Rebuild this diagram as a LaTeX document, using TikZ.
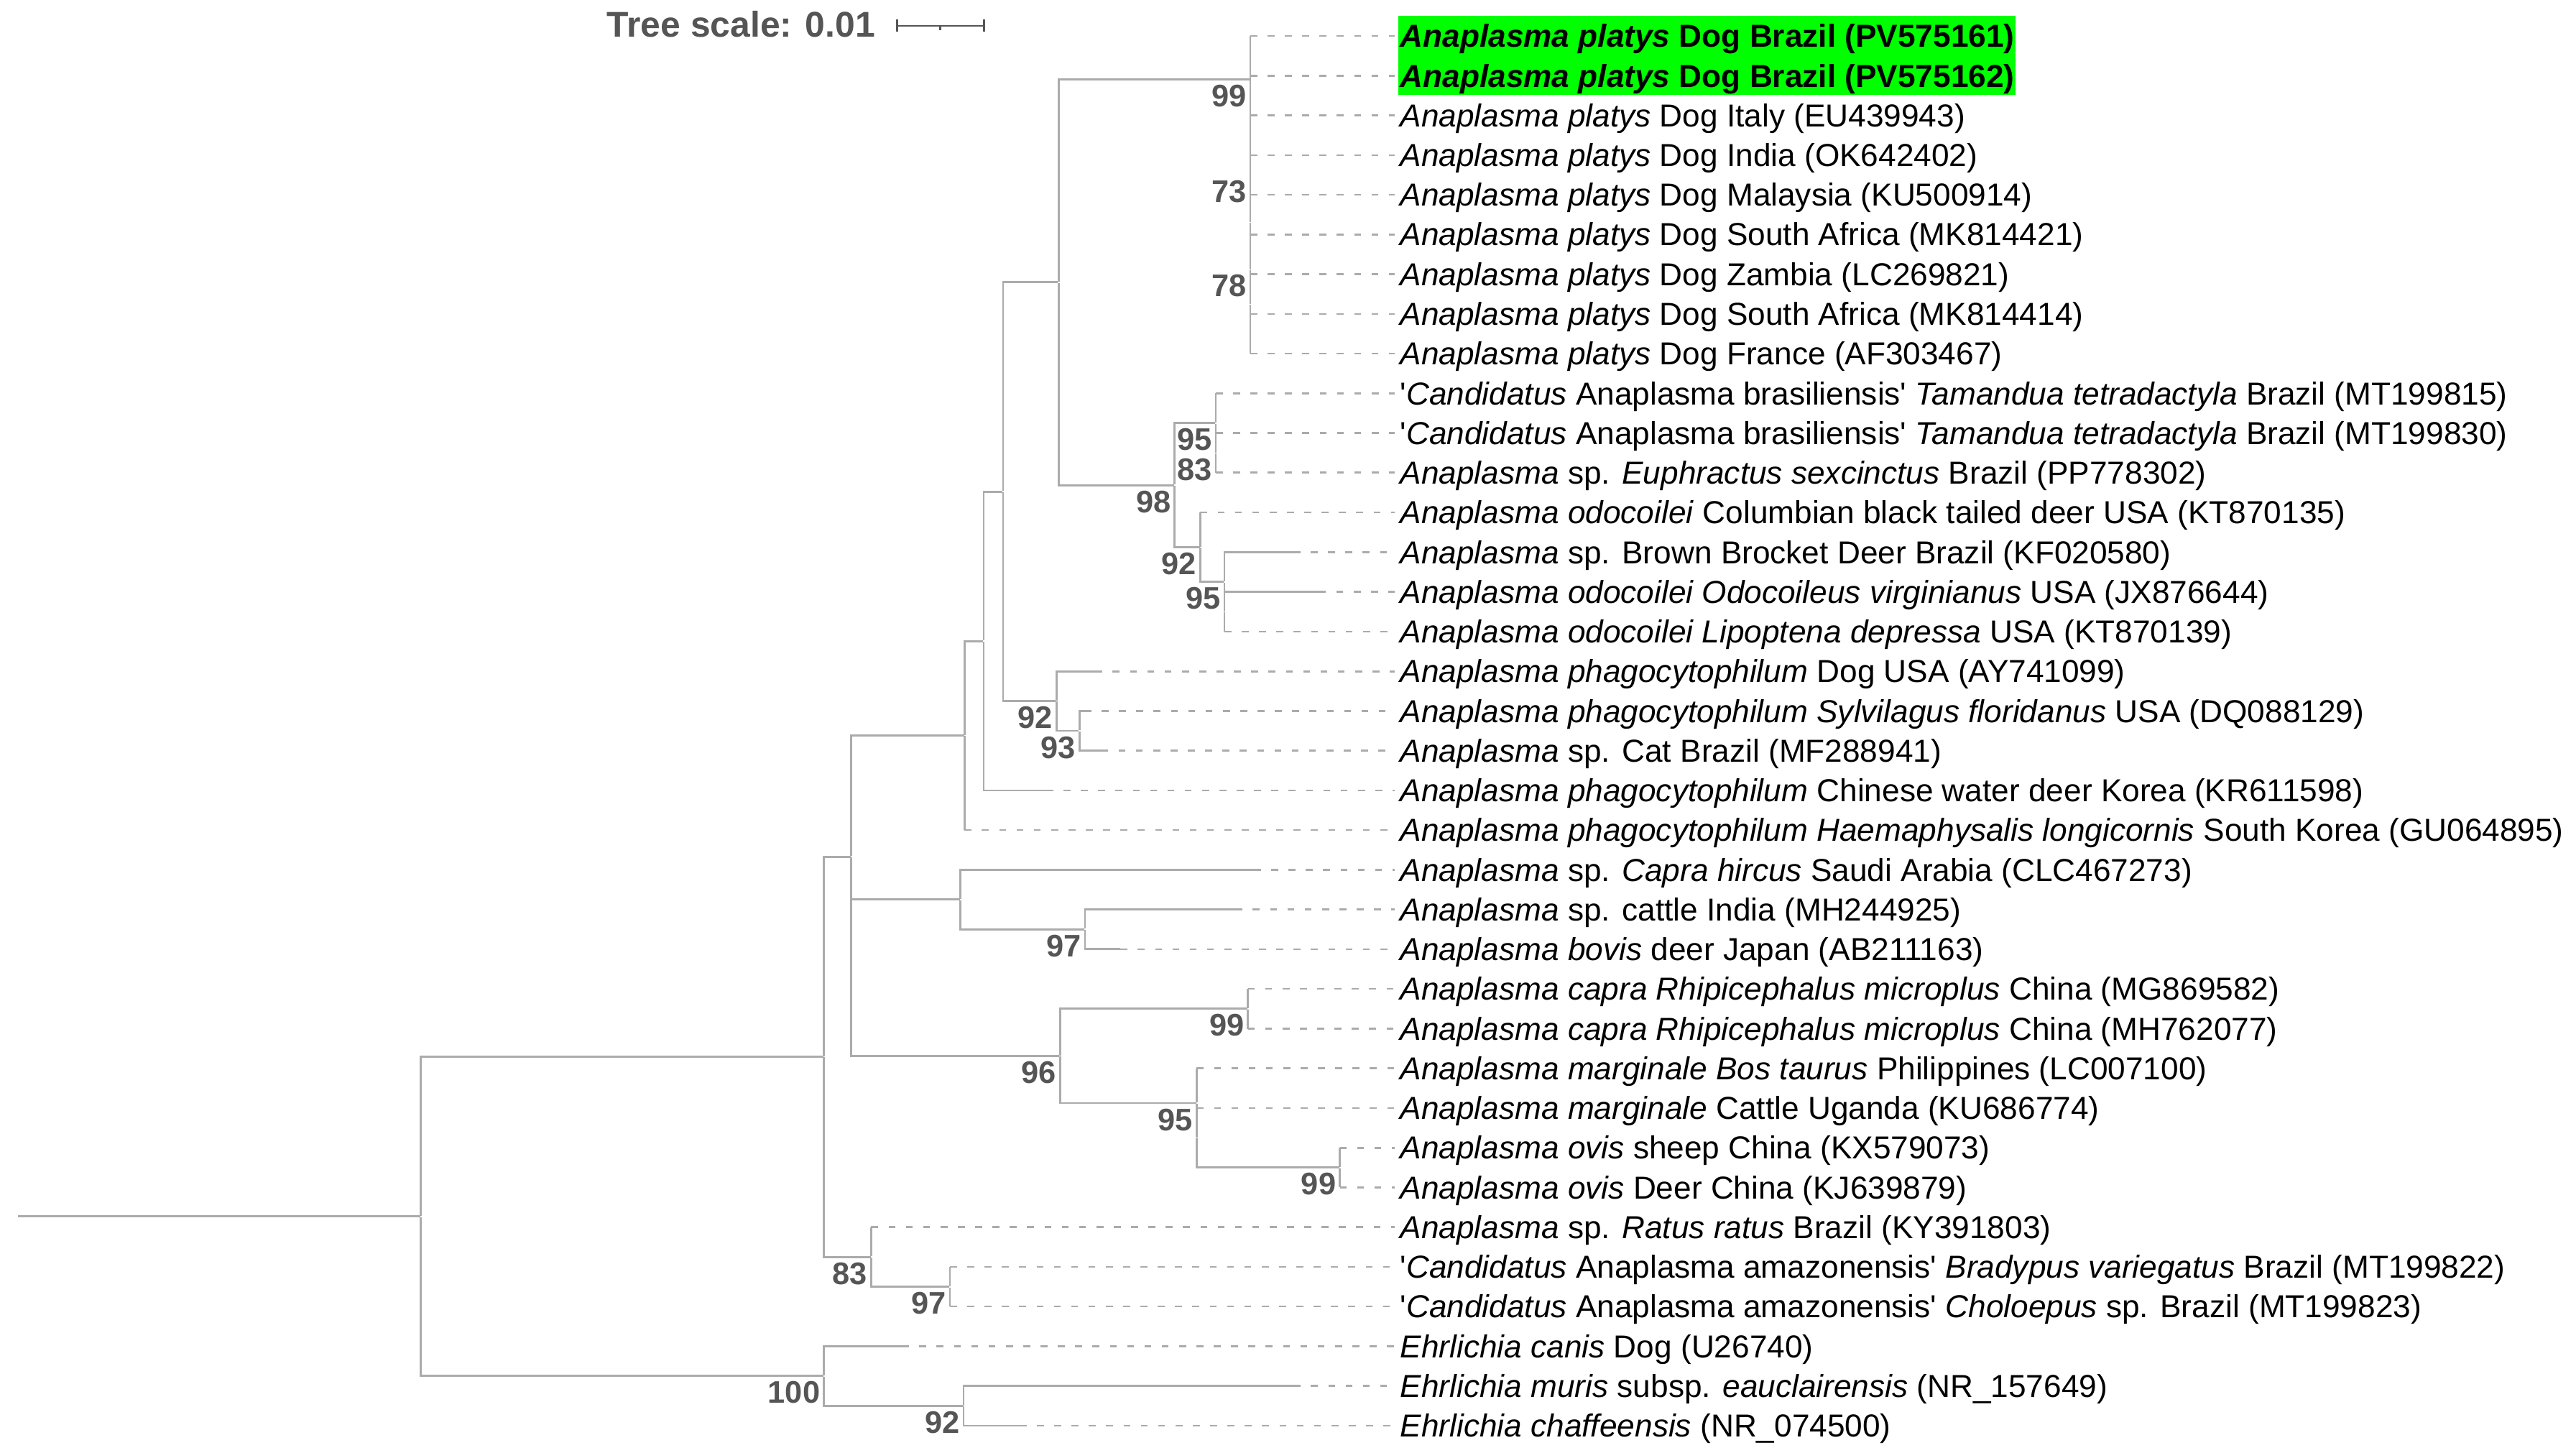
\documentclass[tikz,border=0pt]{standalone}
\usepackage{fontspec}
\setmainfont{Liberation Sans}
\definecolor{treegray}{HTML}{ABABAB}
\definecolor{bootgray}{HTML}{555555}
\definecolor{hlgreen}{HTML}{00FF00}

\begin{document}
\begin{tikzpicture}[x=0.2mm, y=-0.2mm]
	\tikzstyle{junction} = [circle, inner sep=0pt, minimum size=0pt];
	\tikzstyle{branch} = [treegray, line width=0.7pt];
	\tikzstyle{guide} = [treegray, line width=0.65pt, dash pattern=on 2.4pt off 3.6pt];
	\tikzstyle{leaf} = [anchor=west, inner xsep=1.7pt, inner ysep=0pt, text height=7.8pt, text depth=0pt, font=\fontsize{11}{13}\selectfont];
	\tikzstyle{boot} = [text=bootgray, inner xsep=1pt, inner ysep=1.6pt, font=\fontsize{10.8}{12}\selectfont\bfseries];
	\tikzstyle{scalebar} = [bootgray, line width=0.6pt];

	\useasboundingbox (0,0) rectangle (1568,884);

	\node[anchor=base east, inner sep=0pt, text=bootgray, font=\fontsize{12.4}{14}\selectfont\bfseries] at (533,22.6) (scalelab) {Tree scale: 0.01};
	\coordinate (sbl) at (546,15.7);
	\coordinate (sbr) at (599,15.7);
	\draw[scalebar] (sbl) -- (sbr);
	\draw[scalebar] (546,12) -- (546,19.2);
	\draw[scalebar] (599,12) -- (599,19.2);
	\draw[scalebar] (572.3,15.7) -- (572.3,18.2);

	\fill[hlgreen] (851,9.5) rectangle (1227,57.8);

	% internal nodes
	\node[junction] at (10.6,740.4) (stem) {};
	\node[junction] at (256,740.4) (nroot) {};
	\node[junction] at (501.5,643.2) (nA) {};
	\node[junction, label={[boot]below left:100}] at (501.5,837.5) (nEhr) {};
		\node[junction, label={[boot]below left:92}] at (586.5,855.7) (nEhr92) {};
	\node[junction] at (518,521.4) (nB) {};
	\node[junction] at (518,595.1) (nC) {};
	\node[junction] at (587.1,447.7) (n587) {};
	\node[junction] at (598.8,390.2) (n599) {};
	\node[junction] at (610.6,299.2) (n610) {};
	\node[junction] at (644.3,171.75) (n644) {};

	\node[junction, label={[boot]below left:99}] at (761,48.2) (nP99) {};
		\node[junction] at (761,74.4) (nPa) {};
		\node[junction] at (761,102.7) (nPb) {};
		\node[junction] at (761,135.2) (nPc) {};
		\node[junction, label={[boot]below left:73}] at (761,106.5) (nP73) {};
		\node[junction, label={[boot]below left:78}] at (761,163.9) (nP78) {};
		\node[junction] at (761,185.0) (nPd) {};
		\node[junction] at (761,203.2) (nPe) {};

	\node[junction, label={[boot]below left:98}] at (715,295.3) (n98) {};
		\node[junction, label={[boot]below left:95}] at (740,257.5) (nBr95) {};
		\node[junction, label={[boot]below left:83}] at (740,275.6) (nBr83) {};
		\node[junction, label={[boot]below left:92}] at (730.6,333.0) (nOd92) {};
		\node[junction, label={[boot]below left:95}] at (745.3,354.2) (nOd95) {};
		\node[junction] at (745.3,372.3) (nOdi) {};

	\node[junction, label={[boot]below left:92}] at (643,426.7) (nPh92) {};
		\node[junction, label={[boot]below left:93}] at (657,444.8) (nPh93) {};

	\node[junction] at (584.6,547.5) (n585) {};
		\node[junction, label={[boot]below left:97}] at (660.4,565.6) (nBov97) {};

	\node[junction, label={[boot]below left:96}] at (645.2,642.7) (n96) {};
		\node[junction, label={[boot]below left:99}] at (759.6,614.0) (nCap99) {};
		\node[junction, label={[boot]below left:95}] at (728.4,671.4) (nMa95) {};
		\node[junction] at (728.4,692.5) (nMai) {};
		\node[junction, label={[boot]below left:99}] at (815.5,710.6) (nOv99) {};

	\node[junction, label={[boot]below left:83}] at (530.3,765.0) (nAm83) {};
		\node[junction, label={[boot]below left:97}] at (578.2,783.2) (nAm97) {};

	% branch tips
	\coordinate (t1) at (761,21.9);
	\coordinate (t2) at (761,46.1);
	\coordinate (t3) at (761,70.2);
	\coordinate (t4) at (761,94.4);
	\coordinate (t5) at (761,118.6);
	\coordinate (t6) at (761,142.7);
	\coordinate (t7) at (761,166.9);
	\coordinate (t8) at (761,191.1);
	\coordinate (t9) at (761,215.2);
	\coordinate (t10) at (740,239.4);
	\coordinate (t11) at (740,263.6);
	\coordinate (t12) at (740,287.7);
	\coordinate (t13) at (730.6,311.9);
	\coordinate (t14) at (787.3,336.1);
	\coordinate (t15) at (802.9,360.2);
	\coordinate (t16) at (745.3,384.4);
	\coordinate (t17) at (666.7,408.6);
	\coordinate (t18) at (660,432.7);
	\coordinate (t19) at (670.3,456.9);
	\coordinate (t20) at (636.8,481.1);
	\coordinate (t21) at (587.1,505.2);
	\coordinate (t22) at (763.2,529.4);
	\coordinate (t23) at (752,553.6);
	\coordinate (t24) at (682,577.7);
	\coordinate (t25) at (759.6,601.9);
	\coordinate (t26) at (759.6,626.1);
	\coordinate (t27) at (728.4,650.2);
	\coordinate (t28) at (728.4,674.4);
	\coordinate (t29) at (815.5,698.6);
	\coordinate (t30) at (815.5,722.7);
	\coordinate (t31) at (530.3,746.9);
	\coordinate (t32) at (578.2,771.1);
	\coordinate (t33) at (578.2,795.2);
	\coordinate (t34) at (549,819.4);
	\coordinate (t35) at (787.4,843.6);
	\coordinate (t36) at (620.6,867.7);

	% leaves
	\node[leaf] at (849,21.9) (l1) {\textbf{\textit{Anaplasma platys} Dog Brazil (PV575161)}};
	\node[leaf] at (849,46.1) (l2) {\textbf{\textit{Anaplasma platys} Dog Brazil (PV575162)}};
	\node[leaf] at (849,70.2) (l3) {\textit{Anaplasma platys} Dog Italy (EU439943)};
	\node[leaf] at (849,94.4) (l4) {\textit{Anaplasma platys} Dog India (OK642402)};
	\node[leaf] at (849,118.6) (l5) {\textit{Anaplasma platys} Dog Malaysia (KU500914)};
	\node[leaf] at (849,142.7) (l6) {\textit{Anaplasma platys} Dog South Africa (MK814421)};
	\node[leaf] at (849,166.9) (l7) {\textit{Anaplasma platys} Dog Zambia (LC269821)};
	\node[leaf] at (849,191.1) (l8) {\textit{Anaplasma platys} Dog South Africa (MK814414)};
	\node[leaf] at (849,215.2) (l9) {\textit{Anaplasma platys} Dog France (AF303467)};
	\node[leaf] at (849,239.4) (l10) {\textquotesingle\textit{Candidatus} Anaplasma brasiliensis\textquotesingle{} \textit{Tamandua tetradactyla} Brazil (MT199815)};
	\node[leaf] at (849,263.6) (l11) {\textquotesingle\textit{Candidatus} Anaplasma brasiliensis\textquotesingle{} \textit{Tamandua tetradactyla} Brazil (MT199830)};
	\node[leaf] at (849,287.7) (l12) {\textit{Anaplasma} sp. \textit{Euphractus sexcinctus} Brazil (PP778302)};
	\node[leaf] at (849,311.9) (l13) {\textit{Anaplasma odocoilei} Columbian black tailed deer USA (KT870135)};
	\node[leaf] at (849,336.1) (l14) {\textit{Anaplasma} sp. Brown Brocket Deer Brazil (KF020580)};
	\node[leaf] at (849,360.2) (l15) {\textit{Anaplasma odocoilei Odocoileus virginianus} USA (JX876644)};
	\node[leaf] at (849,384.4) (l16) {\textit{Anaplasma odocoilei Lipoptena depressa} USA (KT870139)};
	\node[leaf] at (849,408.6) (l17) {\textit{Anaplasma phagocytophilum} Dog USA (AY741099)};
	\node[leaf] at (849,432.7) (l18) {\textit{Anaplasma phagocytophilum Sylvilagus floridanus} USA (DQ088129)};
	\node[leaf] at (849,456.9) (l19) {\textit{Anaplasma} sp. Cat Brazil (MF288941)};
	\node[leaf] at (849,481.1) (l20) {\textit{Anaplasma phagocytophilum} Chinese water deer Korea (KR611598)};
	\node[leaf] at (849,505.2) (l21) {\textit{Anaplasma phagocytophilum Haemaphysalis longicornis} South Korea (GU064895)};
	\node[leaf] at (849,529.4) (l22) {\textit{Anaplasma} sp. \textit{Capra hircus} Saudi Arabia (CLC467273)};
	\node[leaf] at (849,553.6) (l23) {\textit{Anaplasma} sp. cattle India (MH244925)};
	\node[leaf] at (849,577.7) (l24) {\textit{Anaplasma bovis} deer Japan (AB211163)};
	\node[leaf] at (849,601.9) (l25) {\textit{Anaplasma capra Rhipicephalus microplus} China (MG869582)};
	\node[leaf] at (849,626.1) (l26) {\textit{Anaplasma capra Rhipicephalus microplus} China (MH762077)};
	\node[leaf] at (849,650.2) (l27) {\textit{Anaplasma marginale Bos taurus} Philippines (LC007100)};
	\node[leaf] at (849,674.4) (l28) {\textit{Anaplasma marginale} Cattle Uganda (KU686774)};
	\node[leaf] at (849,698.6) (l29) {\textit{Anaplasma ovis} sheep China (KX579073)};
	\node[leaf] at (849,722.7) (l30) {\textit{Anaplasma ovis} Deer China (KJ639879)};
	\node[leaf] at (849,746.9) (l31) {\textit{Anaplasma} sp. \textit{Ratus ratus} Brazil (KY391803)};
	\node[leaf] at (849,771.1) (l32) {\textquotesingle\textit{Candidatus} Anaplasma amazonensis\textquotesingle{} \textit{Bradypus variegatus} Brazil (MT199822)};
	\node[leaf] at (849,795.2) (l33) {\textquotesingle\textit{Candidatus} Anaplasma amazonensis\textquotesingle{} \textit{Choloepus} sp. Brazil (MT199823)};
	\node[leaf] at (849,819.4) (l34) {\textit{Ehrlichia canis} Dog (U26740)};
	\node[leaf] at (849,843.6) (l35) {\textit{Ehrlichia muris} subsp. \textit{eauclairensis} (NR\_157649)};
	\node[leaf] at (849,867.7) (l36) {\textit{Ehrlichia chaffeensis} (NR\_074500)};

	% backbone
	\draw[branch] (stem) -- (nroot);
	\draw[branch] (nroot) |- (nA);
	\draw[branch] (nroot) |- (nEhr);
	\draw[branch] (nA) |- (nB);
	\draw[branch] (nA) |- (nAm83);
	\draw[branch] (nB) |- (n587);
	\draw[branch] (nB) |- (nC);
	\draw[branch] (nC) |- (n585);
	\draw[branch] (nC) |- (n96);
	\draw[branch] (n587) |- (n599);
	\draw[branch] (n587) |- (t21);
	\draw[branch] (n599) |- (n610);
	\draw[branch] (n599) |- (t20);
	\draw[branch] (n610) |- (n644);
	\draw[branch] (n610) |- (nPh92);
	\draw[branch] (n644) |- (nP99);
	\draw[branch] (n644) |- (n98);

	\draw[branch] (nP99) |- (t1);
	\draw[branch] (nP99) |- (nPa);
	\draw[branch] (nPa) |- (t2);
	\draw[branch] (nPa) |- (nPb);
	\draw[branch] (nPb) |- (t3);
	\draw[branch] (nPb) |- (nPc);
	\draw[branch] (nPc) |- (nP73);
	\draw[branch] (nPc) |- (nP78);
	\draw[branch] (nP73) |- (t4);
	\draw[branch] (nP73) |- (t5);
	\draw[branch] (nP78) |- (t6);
	\draw[branch] (nP78) |- (nPd);
	\draw[branch] (nPd) |- (t7);
	\draw[branch] (nPd) |- (nPe);
	\draw[branch] (nPe) |- (t8);
	\draw[branch] (nPe) |- (t9);

	\draw[branch] (n98) |- (nBr95);
	\draw[branch] (n98) |- (nOd92);
	\draw[branch] (nBr95) |- (t10);
	\draw[branch] (nBr95) |- (nBr83);
	\draw[branch] (nBr83) |- (t11);
	\draw[branch] (nBr83) |- (t12);
	\draw[branch] (nOd92) |- (t13);
	\draw[branch] (nOd92) |- (nOd95);
	\draw[branch] (nOd95) |- (t14);
	\draw[branch] (nOd95) |- (nOdi);
	\draw[branch] (nOdi) |- (t15);
	\draw[branch] (nOdi) |- (t16);

	\draw[branch] (nPh92) |- (t17);
	\draw[branch] (nPh92) |- (nPh93);
	\draw[branch] (nPh93) |- (t18);
	\draw[branch] (nPh93) |- (t19);

	\draw[branch] (n585) |- (t22);
	\draw[branch] (n585) |- (nBov97);
	\draw[branch] (nBov97) |- (t23);
	\draw[branch] (nBov97) |- (t24);

	\draw[branch] (n96) |- (nCap99);
	\draw[branch] (n96) |- (nMa95);
	\draw[branch] (nCap99) |- (t25);
	\draw[branch] (nCap99) |- (t26);
	\draw[branch] (nMa95) |- (t27);
	\draw[branch] (nMa95) |- (nMai);
	\draw[branch] (nMai) |- (t28);
	\draw[branch] (nMai) |- (nOv99);
	\draw[branch] (nOv99) |- (t29);
	\draw[branch] (nOv99) |- (t30);

	\draw[branch] (nAm83) |- (t31);
	\draw[branch] (nAm83) |- (nAm97);
	\draw[branch] (nAm97) |- (t32);
	\draw[branch] (nAm97) |- (t33);

	\draw[branch] (nEhr) |- (t34);
	\draw[branch] (nEhr) |- (nEhr92);
	\draw[branch] (nEhr92) |- (t35);
	\draw[branch] (nEhr92) |- (t36);

	% dashed guides to the labels
	\draw[guide] (t1) -- (l1);
	\draw[guide] (t2) -- (l2);
	\draw[guide] (t3) -- (l3);
	\draw[guide] (t4) -- (l4);
	\draw[guide] (t5) -- (l5);
	\draw[guide] (t6) -- (l6);
	\draw[guide] (t7) -- (l7);
	\draw[guide] (t8) -- (l8);
	\draw[guide] (t9) -- (l9);
	\draw[guide] (t10) -- (l10);
	\draw[guide] (t11) -- (l11);
	\draw[guide] (t12) -- (l12);
	\draw[guide] (t13) -- (l13);
	\draw[guide] (t14) -- (l14);
	\draw[guide] (t15) -- (l15);
	\draw[guide] (t16) -- (l16);
	\draw[guide] (t17) -- (l17);
	\draw[guide] (t18) -- (l18);
	\draw[guide] (t19) -- (l19);
	\draw[guide] (t20) -- (l20);
	\draw[guide] (t21) -- (l21);
	\draw[guide] (t22) -- (l22);
	\draw[guide] (t23) -- (l23);
	\draw[guide] (t24) -- (l24);
	\draw[guide] (t25) -- (l25);
	\draw[guide] (t26) -- (l26);
	\draw[guide] (t27) -- (l27);
	\draw[guide] (t28) -- (l28);
	\draw[guide] (t29) -- (l29);
	\draw[guide] (t30) -- (l30);
	\draw[guide] (t31) -- (l31);
	\draw[guide] (t32) -- (l32);
	\draw[guide] (t33) -- (l33);
	\draw[guide] (t34) -- (l34);
	\draw[guide] (t35) -- (l35);
	\draw[guide] (t36) -- (l36);

\end{tikzpicture}
\end{document}
